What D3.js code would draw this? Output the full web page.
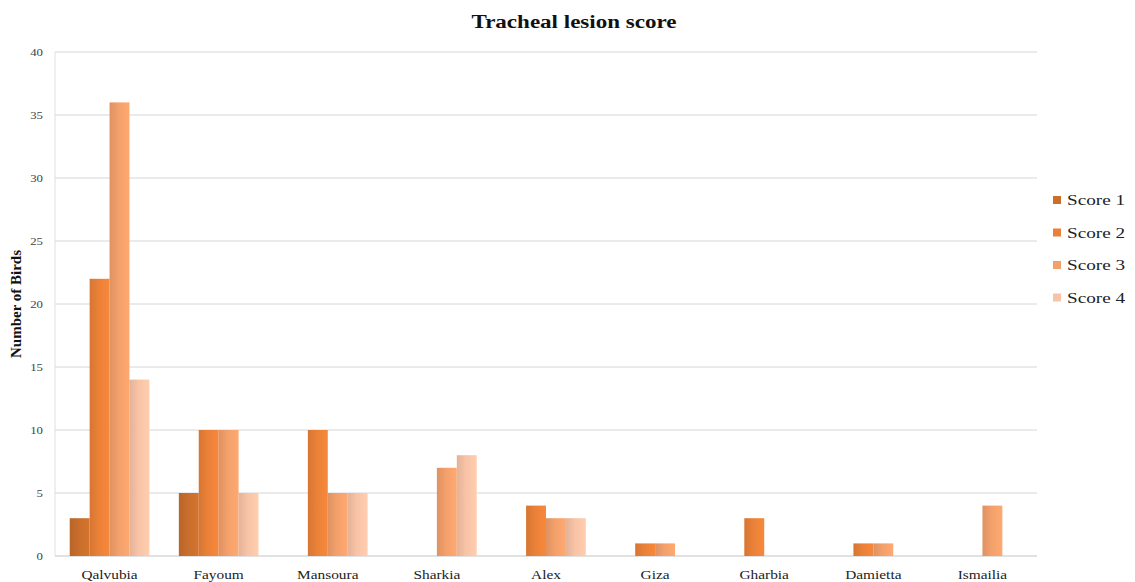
<!DOCTYPE html>
<html>
<head>
<meta charset="utf-8">
<script src="https://cdn.jsdelivr.net/npm/d3@7"></script>
<style>
  body { margin: 0; background: #fff; }
  svg { display: block; font-family: "Liberation Serif", "Times New Roman", "DejaVu Serif", serif; }
</style>
</head>
<body>
<svg id="chart" width="1135" height="582"></svg>
<script>
// data
const regions = ["Qalvubia", "Fayoum", "Mansoura", "Sharkia", "Alex", "Giza", "Gharbia", "Damietta", "Ismailia"];
const seriesNames = ["Score 1", "Score 2", "Score 3", "Score 4"];
const score1 = [3, 5, 0, 0, 0, 0, 0, 0, 0];
const score2 = [22, 10, 10, 0, 4, 1, 3, 1, 0];
const score3 = [36, 10, 5, 7, 3, 1, 0, 1, 4];
const score4 = [14, 5, 5, 8, 3, 0, 0, 0, 0];
const yTicks = [0, 5, 10, 15, 20, 25, 30, 35, 40];

const colors = ["#c96e2c", "#ea8138", "#f3a06b", "#f8c3a6"];
const allSeries = [score1, score2, score3, score4];

const svg = d3.select("#chart");
const plotL = 55, plotR = 1037, plotT = 52, plotB = 556;
const stretch = 1.28; // the original image text is wider than it is tall

const x = d3.scaleBand().domain(regions).range([plotL, plotR]).paddingInner(0.27).paddingOuter(0.135);
const xs = d3.scaleBand().domain(seriesNames).range([0, x.bandwidth()]);
const y = d3.scaleLinear().domain([0, 40]).range([plotB, plotT]);

// gradients, a bit darker on the left edge like the original
const defs = svg.append("defs");
colors.forEach((c, i) => {
  const g = defs.append("linearGradient").attr("id", "g" + i)
    .attr("x1", "0%").attr("x2", "100%").attr("y1", "0%").attr("y2", "0%");
  g.append("stop").attr("offset", "0%").attr("stop-color", d3.color(c).darker(0.25));
  g.append("stop").attr("offset", "45%").attr("stop-color", c);
  g.append("stop").attr("offset", "100%").attr("stop-color", d3.color(c).brighter(0.15));
});

// grid
svg.append("g").selectAll("line").data(yTicks).enter().append("line")
  .attr("x1", plotL).attr("x2", plotR)
  .attr("y1", d => y(d)).attr("y2", d => y(d))
  .attr("stroke", d => d === 0 ? "#c4c4c4" : "#d6d6d6").attr("stroke-width", 1);

svg.append("line").attr("x1", plotL).attr("x2", plotL).attr("y1", plotT).attr("y2", plotB)
  .attr("stroke", "#e0e0e0");

// y tick labels
svg.append("g").selectAll("text").data(yTicks).enter().append("text")
  .attr("transform", d => "translate(" + (plotL - 12) + "," + y(d) + ") scale(" + stretch + ",1)")
  .attr("dy", "0.35em")
  .attr("text-anchor", "end").attr("font-size", 10).attr("fill", "#444")
  .text(d => d);

// bars
const rows = regions.map((r, i) => ({ region: r, vals: allSeries.map(s => s[i]) }));
const groups = svg.append("g").selectAll("g").data(rows).enter().append("g")
  .attr("transform", d => "translate(" + x(d.region) + ",0)");
groups.selectAll("rect").data(d => d.vals.map((v, k) => ({ v, k })).filter(e => e.v > 0))
  .enter().append("rect")
  .attr("x", d => xs(seriesNames[d.k]))
  .attr("width", xs.bandwidth())
  .attr("y", d => y(d.v))
  .attr("height", d => y(0) - y(d.v))
  .attr("fill", d => "url(#g" + d.k + ")");

// x labels
svg.append("g").selectAll("text").data(regions).enter().append("text")
  .attr("transform", d => "translate(" + (x(d) + x.bandwidth() / 2) + ",579) scale(" + stretch + ",1)")
  .attr("text-anchor", "middle").attr("font-size", 12).attr("fill", "#222")
  .text(d => d);

// title
svg.append("text").attr("transform", "translate(574,28) scale(" + stretch + ",1)")
  .attr("text-anchor", "middle")
  .attr("font-size", 18).attr("font-weight", "bold").attr("fill", "#111")
  .text("Tracheal lesion score");

// y label
svg.append("text").attr("transform", "translate(21," + ((plotT + plotB) / 2) + ") rotate(-90)")
  .attr("text-anchor", "middle").attr("font-size", 15).attr("font-weight", "bold").attr("fill", "#111")
  .text("Number of Birds");

// legend
const legend = svg.append("g").selectAll("g").data(seriesNames).enter().append("g")
  .attr("transform", (d, i) => "translate(1053," + (200 + i * 32.5) + ")");
legend.append("rect").attr("x", 0).attr("y", -4).attr("width", 8).attr("height", 8)
  .attr("fill", (d, i) => colors[i]);
legend.append("text").attr("transform", "translate(14,0) scale(" + stretch + ",1)")
  .attr("dy", "0.35em")
  .attr("font-size", 15).attr("fill", "#222").text(d => d);
</script>
</body>
</html>
